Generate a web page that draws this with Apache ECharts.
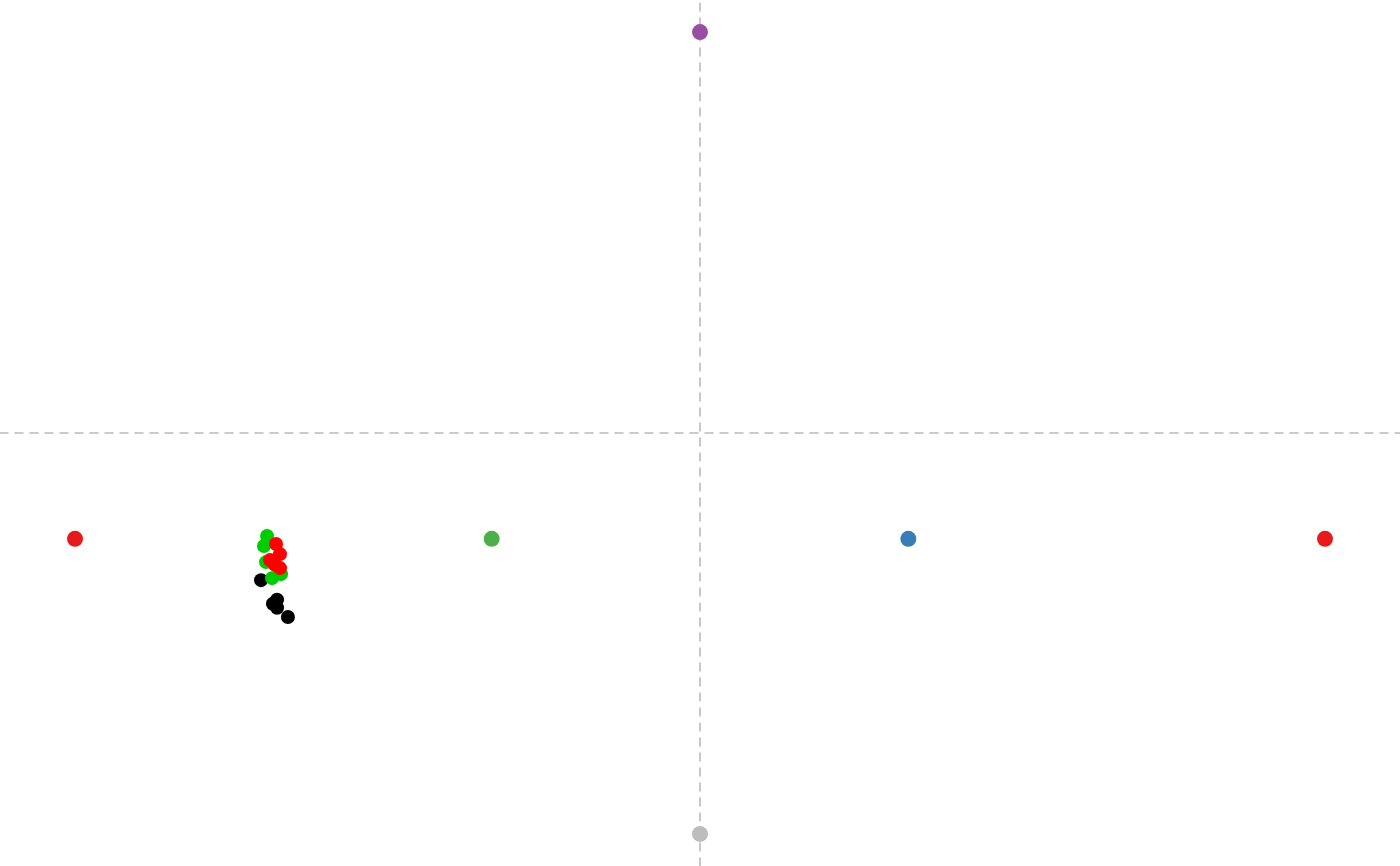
<!DOCTYPE html>
<html>
<head>
<meta charset="utf-8">
<script src="https://cdn.jsdelivr.net/npm/echarts@6/dist/echarts.min.js"></script>
<style>
html, body { margin: 0; padding: 0; background: #fff; }
#main { width: 1400px; height: 866px; }
</style>
</head>
<body>
<div id="main"></div>
<script>
// anchor points round the centre
var anchorPts = [[-3, -0.264], [-1, -0.264], [1, -0.264], [3, -0.264], [0, 1], [0, -1]];
var anchorColors = ['#e41a1c', '#4daf4a', '#377eb8', '#e41a1c', '#984ea3', '#bdbdbd'];

// the cluster, by group
var blackPts = [[-2.107, -0.367], [-2.05, -0.426], [-2.03, -0.416], [-2.03, -0.436], [-1.978, -0.459]];
var greenPts = [[-2.078, -0.257], [-2.093, -0.282], [-2.083, -0.322], [-2.054, -0.362], [-2.011, -0.352]];
var redPts = [[-2.035, -0.277], [-2.016, -0.302], [-2.064, -0.317], [-2.04, -0.329], [-2.016, -0.337]];

var xRange = [-3.36, 3.36];
var yRange = [-1.08, 1.08];

function showChart() {
	var myChart = echarts.init(document.getElementById('main'));
	var axisStyle = {
		show: true,
		onZero: true,
		lineStyle: { color: '#bbbbbb', type: [8, 7], width: 1.6 }
	};
	var option = {
		animation: false,
		grid: { left: 0, right: 0, top: 0, bottom: 0 },
		xAxis: {
			type: 'value', min: xRange[0], max: xRange[1],
			axisLine: axisStyle, axisTick: { show: false },
			axisLabel: { show: false }, splitLine: { show: false }
		},
		yAxis: {
			type: 'value', min: yRange[0], max: yRange[1],
			axisLine: axisStyle, axisTick: { show: false },
			axisLabel: { show: false }, splitLine: { show: false }
		},
		series: [
			{
				type: 'scatter', symbolSize: 14,
				itemStyle: { color: '#000000', opacity: 1 },
				data: blackPts
			},
			{
				type: 'scatter', symbolSize: 14,
				itemStyle: { color: '#00cd00', opacity: 1 },
				data: greenPts
			},
			{
				type: 'scatter', symbolSize: 14,
				itemStyle: { color: '#ff0000', opacity: 1 },
				data: redPts
			},
			{
				type: 'scatter', symbolSize: 16,
				itemStyle: {
					opacity: 1,
					color: function (p) { return anchorColors[p.dataIndex]; }
				},
				data: anchorPts
			}
		]
	};
	myChart.setOption(option);
}
showChart();
</script>
</body>
</html>
